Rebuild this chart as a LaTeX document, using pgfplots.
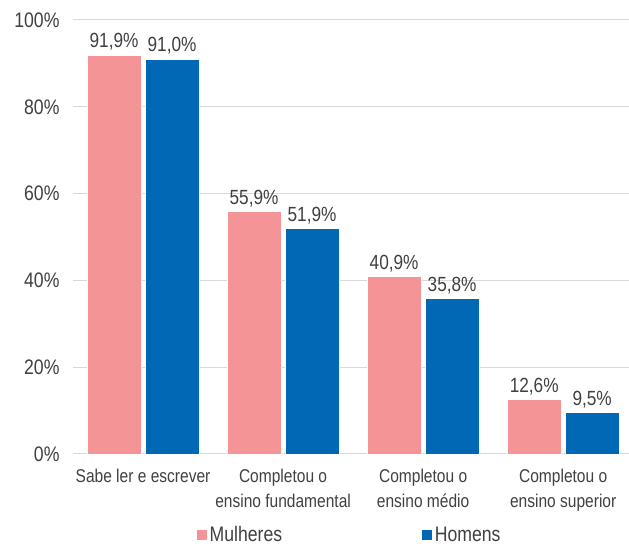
\documentclass[border=0pt]{standalone}
\usepackage{pgfplots}
\pgfplotsset{compat=1.18}
\usepackage{fontspec}
\setmainfont{Liberation Sans}[FakeStretch=0.84]
\definecolor{pinkbar}{HTML}{F49497}
\definecolor{bluebar}{HTML}{0068B4}
\definecolor{txt}{HTML}{404040}
\definecolor{gridgray}{HTML}{D9D9D9}
\begin{document}
\begin{tikzpicture}[x=1pt,y=1pt]
\path[use as bounding box] (0,0) rectangle (629,548);
\begin{axis}[
  at={(73pt,94pt)}, anchor=south west,
  width=556pt, height=434pt, scale only axis,
  ybar=4pt, bar width=54pt,
  xmin=-0.5, xmax=3.47, ymin=0, ymax=100,
  xtick={0,1,2,3},
  xticklabels={Sabe ler e escrever, Completou o\\ensino fundamental, Completou o\\ensino médio, Completou o\\ensino superior},
  xticklabel style={align=center, font=\fontsize{18.5}{25}\selectfont, text=txt, yshift=-12pt},
  ytick={0,20,40,60,80,100},
  yticklabel={\pgfmathprintnumber{\tick}\%},
  yticklabel style={font=\fontsize{21}{22}\selectfont, text=txt, xshift=-10pt},
  /pgf/number format/assume math mode=true,
  major tick length=0pt,
  axis line style={draw=none},
  xmajorgrids=false,
  ymajorgrids=true, grid style={draw=gridgray, line width=1pt},
  nodes near coords={\pgfmathprintnumber[fixed,fixed zerofill,precision=1,use comma]{\pgfplotspointmeta}\%},
  every node near coord/.append style={font=\fontsize{20.5}{22}\selectfont, text=txt, yshift=1pt},
  legend style={at={(0.497,-0.186)}, anchor=center, draw=none, inner sep=0pt, font=\fontsize{21}{22}\selectfont, text=txt, legend columns=2, /tikz/every even column/.append style={column sep=137pt}},
  legend image code/.code={\fill[#1] (0pt,-5.5pt) rectangle (11pt,5.5pt);},
  legend cell align=left,
]
\addplot[fill=pinkbar, draw=white, line width=0.6pt] coordinates {(0,91.9) (1,55.9) (2,40.9) (3,12.6)};
\addplot[fill=bluebar, draw=white, line width=0.6pt] coordinates {(0,91.0) (1,51.9) (2,35.8) (3,9.5)};
\legend{Mulheres, Homens}
\end{axis}
\end{tikzpicture}
\end{document}
